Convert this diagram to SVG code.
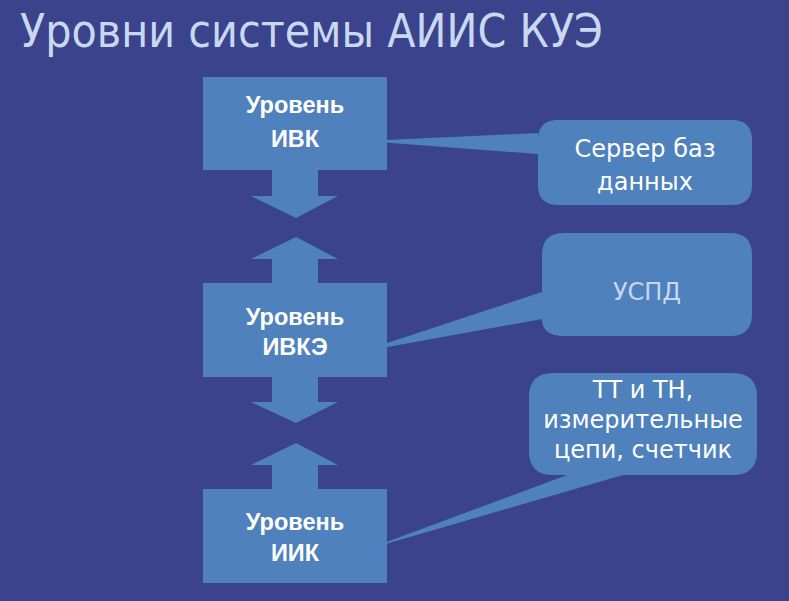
<svg xmlns="http://www.w3.org/2000/svg" width="789" height="601" viewBox="0 0 789 601">
  <style>
    .bg { fill: #3a438b; }
    .shape { fill: #4f81bd; stroke: none; }
    .title { font-family: "DejaVu Sans", "Liberation Sans", sans-serif; font-size: 47px; fill: #c9d8f1; }
    .lvl { font-family: "Liberation Sans", Arial, sans-serif; font-weight: bold; font-size: 23.5px; fill: #ffffff; text-anchor: middle; }
    .note { font-family: "DejaVu Sans", "Liberation Sans", sans-serif; font-size: 24px; fill: #ffffff; text-anchor: middle; }
    .note-lt { fill: #c9d8f1; }
  </style>

  <rect class="bg" x="0" y="0" width="789" height="601"/>

  <text class="title" x="20" y="47" textLength="583" lengthAdjust="spacingAndGlyphs">Уровни системы АИИС КУЭ</text>

  <!-- block arrows between levels -->
  <g id="connectors">
    <polygon class="shape" points="272,168 318,168 318,196 338,196 296,218 251,196 272,196"/>
    <polygon class="shape" points="296,237 338,259 318,259 318,285 272,285 272,259 251,259"/>
    <polygon class="shape" points="272,375 318,375 318,402 338,402 296,423 251,402 272,402"/>
    <polygon class="shape" points="296,443 338,465 318,465 318,491 272,491 272,465 251,465"/>
  </g>

  <g id="level-ivk">
    <rect class="shape" x="203" y="77" width="184" height="93"/>
    <text class="lvl" x="295" y="113">Уровень</text>
    <text class="lvl" x="295" y="147">ИВК</text>
  </g>

  <g id="level-ivke">
    <rect class="shape" x="203" y="283" width="184" height="94"/>
    <text class="lvl" x="295" y="325">Уровень</text>
    <text class="lvl" x="295" y="355">ИВКЭ</text>
  </g>

  <g id="level-iik">
    <rect class="shape" x="203" y="489" width="184" height="94"/>
    <text class="lvl" x="295" y="530">Уровень</text>
    <text class="lvl" x="295" y="561">ИИК</text>
  </g>

  <!-- callouts with pointer tails -->
  <g id="callout-server">
    <path class="shape" d="M558,120 H732 Q752,120 752,140 V185 Q752,205 732,205 H558 Q538,205 538,185 V154 L365,141 L538,133 V140 Q538,120 558,120 Z"/>
    <text class="note" x="645" y="157">Сервер баз</text>
    <text class="note" x="645" y="190">данных</text>
  </g>

  <g id="callout-uspd">
    <path class="shape" d="M564,233 H730 Q752,233 752,255 V314 Q752,336 730,336 H564 Q542,336 542,319 L360,352 L542,292 V255 Q542,233 564,233 Z"/>
    <text class="note note-lt" x="647" y="300">УСПД</text>
  </g>

  <g id="callout-meters">
    <path class="shape" d="M553,373 H733 Q757,373 757,397 V451 Q757,475 733,475 H623 L365,550 L567,475 H553 Q529,475 529,451 V397 Q529,373 553,373 Z"/>
    <text class="note" x="643" y="398">ТТ и ТН,</text>
    <text class="note" x="643" y="428">измерительные</text>
    <text class="note" x="643" y="458">цепи, счетчик</text>
  </g>
</svg>
